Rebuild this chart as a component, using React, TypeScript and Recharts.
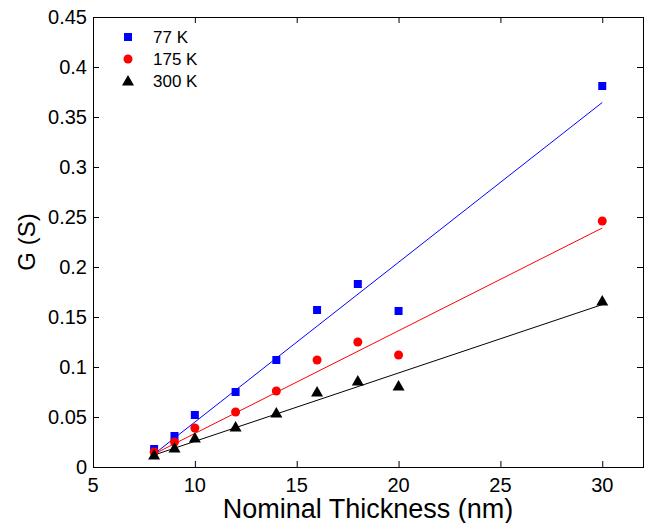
import { ComposedChart, Scatter, Line, XAxis, YAxis } from 'recharts'

const thickness = [8, 9, 10, 12, 14, 16, 18, 20, 30]
const g77 = [0.018, 0.031, 0.052, 0.075, 0.107, 0.157, 0.183, 0.156, 0.381]
const g175 = [0.015, 0.025, 0.039, 0.055, 0.076, 0.107, 0.125, 0.112, 0.246]
const g300 = [0.012, 0.019, 0.029, 0.040, 0.054, 0.075, 0.086, 0.081, 0.166]

// linear fit end points (x = 8 and x = 30)
const fitX = [8, 30]
const fit77 = [0.013, 0.3645]
const fit175 = [0.013, 0.239]
const fit300 = [0.012, 0.1624]

const xTicks = [5, 10, 15, 20, 25, 30]
const yTicks = [0, 0.05, 0.1, 0.15, 0.2, 0.25, 0.3, 0.35, 0.4, 0.45]
const xDomain = [5, 32]
const yDomain = [0, 0.45]

const toPoints = (xs: number[], ys: number[]) => xs.map((x, i) => ({ x, y: ys[i] }))

const pts77 = toPoints(thickness, g77)
const pts175 = toPoints(thickness, g175)
const pts300 = toPoints(thickness, g300)

const font = '"Liberation Sans", Arial, sans-serif'
const W = 652
const H = 523
const MARGIN = { top: 17, right: 9, left: 0, bottom: 0 }
const Y_AXIS_W = 93
const X_AXIS_H = 56
const PLOT_X = MARGIN.left + Y_AXIS_W
const PLOT_Y = MARGIN.top
const PLOT_W = W - MARGIN.left - MARGIN.right - Y_AXIS_W
const PLOT_H = H - MARGIN.top - MARGIN.bottom - X_AXIS_H
const TICK = 6

const BottomTick = ({ x, y, payload }: any) => (
  <text x={x} y={Number(y) + 25} textAnchor="middle" fontSize={20} fontFamily={font} fill="#000">
    {payload.value}
  </text>
)

const LeftTick = ({ x, y, payload }: any) => (
  <text x={Number(x) - 6} y={Number(y) + 7} textAnchor="end" fontSize={20} fontFamily={font} fill="#000">
    {payload.value}
  </text>
)

// matlab-style box with inward ticks on all four sides
const Frame = () => {
  const px = (v: number) => PLOT_X + ((v - xDomain[0]) / (xDomain[1] - xDomain[0])) * PLOT_W
  const py = (v: number) => PLOT_Y + PLOT_H - ((v - yDomain[0]) / (yDomain[1] - yDomain[0])) * PLOT_H
  const bottom = PLOT_Y + PLOT_H
  const right = PLOT_X + PLOT_W
  return (
    <svg width={W} height={H} style={{ position: 'absolute', left: 0, top: 0, pointerEvents: 'none' }}>
      <rect x={PLOT_X + 0.5} y={PLOT_Y + 0.5} width={PLOT_W} height={PLOT_H} fill="none" stroke="#000" />
      {xTicks.map((t) => (
        <g key={'x' + t}>
          <line x1={px(t) + 0.5} y1={bottom} x2={px(t) + 0.5} y2={bottom - TICK} stroke="#000" />
          <line x1={px(t) + 0.5} y1={PLOT_Y} x2={px(t) + 0.5} y2={PLOT_Y + TICK} stroke="#000" />
        </g>
      ))}
      {yTicks.map((t) => (
        <g key={'y' + t}>
          <line x1={PLOT_X} y1={py(t) + 0.5} x2={PLOT_X + TICK} y2={py(t) + 0.5} stroke="#000" />
          <line x1={right} y1={py(t) + 0.5} x2={right - TICK} y2={py(t) + 0.5} stroke="#000" />
        </g>
      ))}
    </svg>
  )
}

const Square = ({ cx, cy }: any) => <rect x={cx - 4} y={cy - 4} width={8} height={8} fill="#0000ff" />
const Dot = ({ cx, cy }: any) => <circle cx={cx} cy={cy} r={4.5} fill="#ff0000" />
const Tri = ({ cx, cy }: any) => (
  <path d={`M${cx},${cy - 6} L${cx + 6},${cy + 4.5} L${cx - 6},${cy + 4.5} Z`} fill="#000" />
)

const legendItems = [
  { label: '77 K', Shape: Square },
  { label: '175 K', Shape: Dot },
  { label: '300 K', Shape: Tri },
]

const LegendBox = () => (
  <svg width={120} height={72} style={{ position: 'absolute', left: 120, top: 26 }}>
    {legendItems.map((item, i) => (
      <g key={item.label}>
        <item.Shape cx={8} cy={11 + i * 22} />
        <text x={33} y={17 + i * 22} fontSize={17} fontFamily={font} fill="#000">
          {item.label}
        </text>
      </g>
    ))}
  </svg>
)

const XLabel = ({ viewBox }: any) => (
  <text x={viewBox.x + viewBox.width / 2} y={518} textAnchor="middle" fontSize={27} fontFamily={font} fill="#000">
    Nominal Thickness (nm)
  </text>
)

export default function App() {
  return (
    <div style={{ position: 'absolute', left: 0, top: 0, width: W, height: H, background: '#fff' }}>
      <ComposedChart width={W} height={H} margin={MARGIN}>
        <XAxis
          type="number"
          dataKey="x"
          domain={xDomain}
          ticks={xTicks}
          allowDataOverflow
          height={X_AXIS_H}
          tickSize={0}
          tickMargin={0}
          tickLine={false}
          tick={<BottomTick />}
          axisLine={false}
          label={<XLabel />}
        />
        <YAxis
          type="number"
          domain={yDomain}
          ticks={yTicks}
          allowDataOverflow
          width={Y_AXIS_W}
          tickSize={0}
          tickMargin={0}
          tickLine={false}
          tick={<LeftTick />}
          axisLine={false}
          label={{ value: 'G (S)', angle: -90, position: 'insideLeft', offset: 26, fontSize: 24, fontFamily: font, fill: '#000', style: { textAnchor: 'middle' } }}
        />
        <Line data={toPoints(fitX, fit77)} dataKey="y" stroke="#0000ff" strokeWidth={1} dot={false} isAnimationActive={false} />
        <Line data={toPoints(fitX, fit175)} dataKey="y" stroke="#ff0000" strokeWidth={1} dot={false} isAnimationActive={false} />
        <Line data={toPoints(fitX, fit300)} dataKey="y" stroke="#000" strokeWidth={1} dot={false} isAnimationActive={false} />
        <Scatter name="77 K" data={pts77} dataKey="y" shape={<Square />} isAnimationActive={false} />
        <Scatter name="175 K" data={pts175} dataKey="y" shape={<Dot />} isAnimationActive={false} />
        <Scatter name="300 K" data={pts300} dataKey="y" shape={<Tri />} isAnimationActive={false} />
      </ComposedChart>
      <Frame />
      <LegendBox />
    </div>
  )
}
